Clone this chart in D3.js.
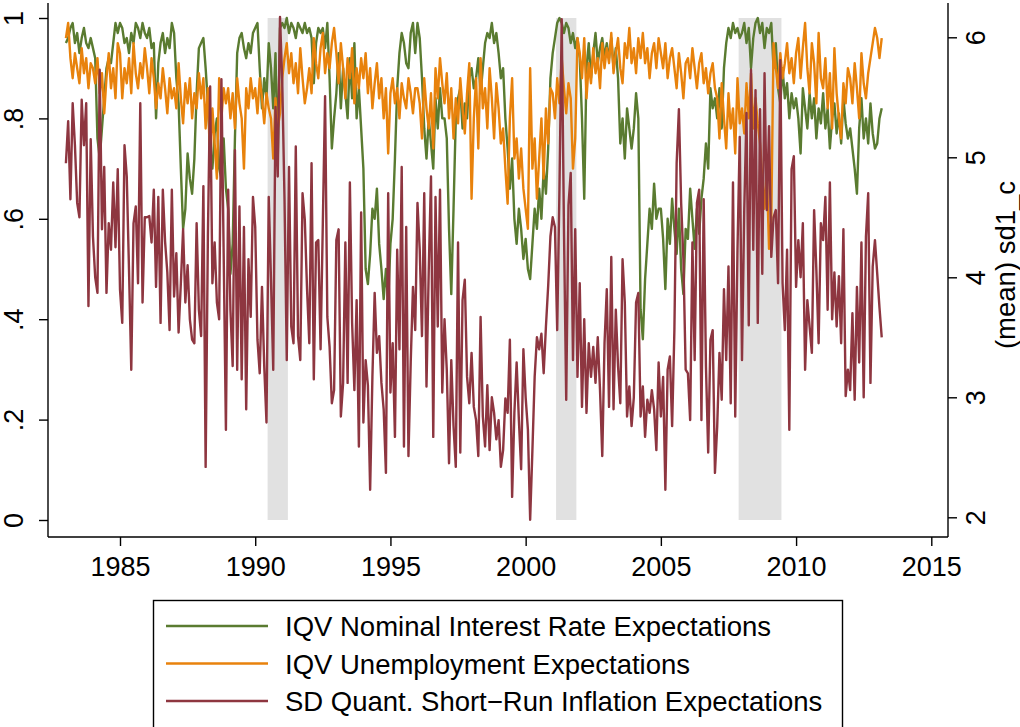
<!DOCTYPE html>
<html>
<head>
<meta charset="utf-8">
<script src="https://cdn.jsdelivr.net/npm/d3@7"></script>
<style>
  body { margin: 0; background: #fff; }
  text { font-family: "Liberation Sans", Arial, Helvetica, sans-serif; fill: #000; }
  .axis path, .axis line { stroke: #000; stroke-width: 1.4; }
  .series { fill: none; stroke-width: 2.4; stroke-linejoin: round; }
</style>
</head>
<body>
<div class="graph"></div>
<script>
// monthly observations, Jan 1983 - Mar 2013
var startYear = 1983;

var iqvInterest = [
  0.95, 0.96, 0.98, 0.99, 0.95, 0.97, 0.93, 0.96, 0.98, 0.95, 0.94, 0.96,
  0.94, 0.92, 0.76, 0.72, 0.78, 0.84, 0.90, 0.92, 0.91, 0.95, 0.99, 0.97,
  0.99, 0.98, 0.95, 0.96, 0.93, 0.97, 0.95, 0.99, 0.98, 0.96, 0.99, 0.97,
  0.96, 0.98, 0.94, 0.95, 0.80, 0.91, 0.95, 0.97, 0.93, 0.96, 0.94, 0.99,
  0.97, 0.88, 0.83, 0.70, 0.58, 0.62, 0.73, 0.68, 0.65, 0.72, 0.85, 0.94,
  0.95, 0.96, 0.90, 0.83, 0.74, 0.70, 0.77, 0.80, 0.70, 0.68, 0.76, 0.66,
  0.62, 0.49, 0.55, 0.76, 0.93, 0.96, 0.97, 0.94, 0.92, 0.95, 0.93, 0.97,
  0.98, 0.99, 0.90, 0.82, 0.88, 0.84, 0.95, 0.90, 0.82, 0.93, 0.72, 0.98,
  0.99, 0.98, 1.00, 0.97, 0.99, 0.98, 0.96, 0.99, 0.98, 0.97, 0.99, 0.97,
  0.98, 0.96, 0.87, 0.95, 0.98, 0.97, 0.98, 0.94, 0.99, 0.88, 0.74, 0.80,
  0.85, 0.93, 0.82, 0.90, 0.85, 0.80, 0.92, 0.84, 0.95, 0.80, 0.86, 0.78,
  0.70, 0.50, 0.47, 0.53, 0.62, 0.60, 0.66, 0.55, 0.50, 0.44, 0.50, 0.43,
  0.55, 0.60, 0.72, 0.86, 0.93, 0.97, 0.95, 0.91, 0.90, 0.97, 0.99, 0.93,
  0.99, 0.96, 0.88, 0.78, 0.72, 0.80, 0.75, 0.70, 0.84, 0.78, 0.86, 0.80,
  0.80, 0.76, 0.58, 0.45, 0.62, 0.80, 0.84, 0.86, 0.78, 0.83, 0.80, 0.88,
  0.90, 0.86, 0.88, 0.92, 0.85, 0.90, 0.95, 0.97, 0.96, 0.99, 0.95, 0.97,
  0.93, 0.88, 0.90, 0.80, 0.74, 0.66, 0.72, 0.60, 0.55, 0.62, 0.58, 0.52,
  0.56, 0.50, 0.48, 0.55, 0.62, 0.58, 0.66, 0.60, 0.70, 0.65, 0.74, 0.88,
  0.93, 0.96, 0.99, 1.00, 0.99, 0.97, 0.99, 0.98, 0.95, 0.97, 0.94, 0.96,
  0.92, 0.80, 0.64, 0.90, 0.95, 0.88, 0.93, 0.97, 0.91, 0.94, 0.96, 0.92,
  0.95, 0.92, 0.96, 0.90, 0.94, 0.88, 0.75, 0.80, 0.72, 0.82, 0.78, 0.74,
  0.78, 0.85, 0.80, 0.42, 0.36, 0.48, 0.55, 0.62, 0.58, 0.67, 0.60, 0.62,
  0.62, 0.56, 0.46, 0.60, 0.55, 0.64, 0.58, 0.53, 0.62, 0.50, 0.45, 0.58,
  0.56, 0.66, 0.60, 0.54, 0.62, 0.57, 0.64, 0.68, 0.75, 0.70, 0.86, 0.82,
  0.84, 0.80, 0.86, 0.78, 0.90, 0.95, 0.98, 0.96, 0.99, 0.97, 0.98, 0.96,
  0.97, 0.99, 0.95, 0.98, 0.90, 0.96, 0.99, 1.00, 0.97, 0.99, 0.94, 0.98,
  0.97, 0.99, 0.90, 0.95, 0.86, 0.83, 0.90, 0.84, 0.87, 0.80, 0.85, 0.82,
  0.84, 0.80, 0.73, 0.86, 0.82, 0.78, 0.85, 0.80, 0.84, 0.76, 0.82, 0.79,
  0.85, 0.78, 0.82, 0.74, 0.80, 0.83, 0.77, 0.81, 0.75, 0.84, 0.79, 0.76,
  0.78, 0.74, 0.70, 0.65, 0.78, 0.84, 0.76, 0.80, 0.75, 0.83, 0.77, 0.74,
  0.75, 0.80, 0.82
];

var iqvUnemp = [
  0.96, 0.99, 0.92, 0.88, 0.93, 0.90, 0.87, 0.94, 0.89, 0.92, 0.86, 0.91,
  0.90, 0.87, 0.92, 0.85, 0.89, 0.81, 0.88, 0.93, 0.86, 0.90, 0.84, 0.95,
  0.93, 0.84, 0.90, 0.87, 0.92, 0.85, 0.95, 0.89, 0.86, 0.91, 0.88, 0.94,
  0.90, 0.85, 0.92, 0.88, 0.82, 0.87, 0.84, 0.90, 0.86, 0.81, 0.88, 0.84,
  0.86, 0.82, 0.91, 0.84, 0.79, 0.87, 0.83, 0.88, 0.80, 0.85, 0.82, 0.89,
  0.84, 0.88, 0.78, 0.86, 0.70, 0.82, 0.75, 0.68, 0.88, 0.80, 0.86, 0.83,
  0.86, 0.80, 0.85, 0.78, 0.88, 0.83, 0.80, 0.70, 0.86, 0.82, 0.88, 0.84,
  0.86, 0.81, 0.88, 0.84, 0.79, 0.85, 0.82, 0.80, 0.72, 0.84, 0.78, 0.81,
  0.88, 0.92, 0.95, 0.89, 0.93, 0.87, 0.91, 0.85, 0.94, 0.88, 0.83, 0.86,
  0.90, 0.85, 0.96, 0.91, 0.88, 0.94, 0.97, 0.89, 0.93, 0.90, 0.95, 0.98,
  0.93, 0.87, 0.95, 0.90, 0.84, 0.92, 0.88, 0.94, 0.83, 0.90, 0.86, 0.92,
  0.88, 0.93, 0.85, 0.90, 0.82, 0.87, 0.91, 0.84, 0.88, 0.80, 0.86, 0.73,
  0.85, 0.88, 0.83, 0.86, 0.80, 0.87, 0.84, 0.82, 0.88, 0.85, 0.81, 0.86,
  0.86, 0.83, 0.76, 0.88, 0.82, 0.78, 0.85, 0.74, 0.90, 0.84, 0.92, 0.87,
  0.83, 0.89, 0.80, 0.86, 0.76, 0.84, 0.79, 0.88, 0.82, 0.77, 0.85, 0.91,
  0.64, 0.80, 0.88, 0.74, 0.92, 0.82, 0.86, 0.78, 0.90, 0.84, 0.76, 0.87,
  0.82, 0.75, 0.78, 0.70, 0.63, 0.80, 0.88, 0.72, 0.76, 0.68, 0.74, 0.66,
  0.62, 0.58, 0.90, 0.70, 0.76, 0.64, 0.72, 0.80, 0.68, 0.82, 0.75, 0.86,
  0.85, 0.80, 0.88, 0.83, 0.92, 0.86, 0.81, 0.87, 0.84, 0.70, 0.76, 0.96,
  0.93, 0.88, 0.96, 0.84, 0.91, 0.87, 0.94, 0.89, 0.92, 0.86, 0.95, 0.90,
  0.94, 0.91, 0.97, 0.89, 0.93, 0.96, 0.90, 0.87, 0.95, 0.92, 0.98, 0.91,
  0.94, 0.89, 0.96, 0.92, 0.97, 0.91, 0.94, 0.88, 0.93, 0.95, 0.90, 0.96,
  0.93, 0.90, 0.95, 0.88, 0.92, 0.94, 0.90, 0.86, 0.93, 0.89, 0.84, 0.91,
  0.92, 0.88, 0.94, 0.90, 0.86, 0.91, 0.93, 0.87, 0.90, 0.85, 0.89, 0.91,
  0.86, 0.84, 0.76, 0.87, 0.80, 0.74, 0.85, 0.78, 0.82, 0.73, 0.88, 0.79,
  0.82, 0.77, 0.87, 0.80, 0.89, 0.78, 0.84, 0.79, 0.75, 0.68, 0.62, 0.70,
  0.54, 0.60, 0.95, 0.90, 0.86, 0.93, 0.88, 0.91, 0.95, 0.89, 0.92, 0.87,
  0.93, 0.96, 0.88, 0.94, 0.99, 0.90, 0.85, 0.95, 0.91, 0.83, 0.97, 0.88,
  0.86, 0.92, 0.82, 0.89, 0.78, 0.94, 0.85, 0.80, 0.76, 0.87, 0.83, 0.90,
  0.88, 0.83, 0.91, 0.86, 0.80, 0.93, 0.87, 0.84, 0.89, 0.92, 0.95, 0.98,
  0.96, 0.92, 0.96
];

// right axis, (mean) sd1_c
var sdInflation = [
  4.95, 5.30, 4.65, 5.45, 5.10, 4.62, 4.50, 5.48, 5.10, 5.45, 3.76, 5.15,
  4.34, 4.00, 3.87, 5.73, 4.40, 4.92, 3.87, 4.45, 4.23, 4.79, 4.25, 4.90,
  3.90, 3.62, 5.10, 4.84, 4.06, 3.23, 4.45, 4.59, 3.95, 5.45, 3.79, 4.50,
  4.50, 4.51, 4.29, 4.73, 3.92, 4.67, 3.62, 4.73, 4.30, 4.04, 3.56, 4.73,
  3.84, 4.20, 3.54, 3.95, 4.40, 3.79, 4.10, 3.65, 3.48, 3.45, 4.45, 3.73,
  3.51, 4.76, 2.42, 4.34, 5.59, 3.95, 4.29, 3.79, 3.65, 5.65, 4.20, 2.73,
  4.73, 3.73, 3.26, 5.06, 3.23, 4.59, 3.15, 4.42, 2.90, 4.15, 3.67, 4.67,
  4.42, 3.48, 3.20, 3.92, 3.26, 2.79, 4.67, 3.98, 3.23, 5.42, 4.84, 6.17,
  5.62, 4.65, 3.31, 4.92, 3.59, 3.45, 5.09, 3.51, 3.31, 4.70, 4.48, 3.90,
  3.45, 4.95, 3.15, 4.29, 4.31, 3.40, 4.45, 5.51, 3.67, 3.42, 2.95, 3.06,
  4.31, 4.40, 2.84, 3.12, 4.29, 3.12, 4.79, 3.62, 3.06, 3.81, 2.59, 4.54,
  2.79, 3.31, 3.10, 2.23, 3.17, 3.87, 3.37, 3.51, 3.12, 2.90, 2.37, 4.70,
  3.04, 3.45, 2.67, 4.23, 3.40, 4.92, 2.59, 4.42, 2.51, 3.29, 3.92, 3.56,
  4.62, 4.23, 3.51, 4.70, 3.09, 4.06, 4.84, 2.67, 4.67, 3.59, 4.73, 3.04,
  3.65, 3.23, 2.45, 3.31, 2.76, 2.42, 4.29, 2.54, 3.81, 3.98, 3.17, 2.95,
  3.37, 2.92, 2.81, 2.51, 3.67, 2.84, 2.59, 3.10, 2.56, 3.00, 2.87, 2.65,
  2.81, 2.42, 2.56, 2.99, 2.87, 3.48, 2.17, 2.87, 3.29, 2.81, 2.40, 3.40,
  3.00, 2.73, 1.98, 2.56, 3.17, 3.50, 3.40, 3.53, 3.20, 3.59, 3.93, 4.34,
  4.50, 4.42, 3.56, 4.73, 6.15, 4.40, 2.98, 4.60, 4.87, 3.31, 4.40, 3.17,
  3.95, 2.92, 3.65, 2.87, 3.45, 3.17, 3.42, 3.12, 3.50, 3.06, 2.51, 3.45,
  3.90, 2.92, 4.17, 2.90, 3.73, 3.26, 2.95, 4.15, 3.79, 2.84, 3.09, 2.76,
  3.00, 3.79, 3.87, 2.84, 3.09, 2.67, 2.98, 2.87, 3.06, 2.90, 2.56, 3.29,
  2.84, 3.17, 2.23, 3.23, 3.34, 2.76, 3.56, 4.95, 5.40, 4.62, 4.15, 3.23,
  3.20, 2.81, 4.29, 3.31, 4.62, 4.73, 2.81, 4.65, 3.26, 2.54, 3.48, 3.56,
  2.37, 2.76, 3.37, 2.98, 3.90, 3.31, 4.09, 2.95, 4.79, 2.84, 4.23, 5.17,
  3.31, 4.56, 5.37, 3.60, 5.73, 4.23, 5.56, 3.62, 5.40, 4.03, 5.70, 4.56,
  5.26, 4.17, 4.50, 4.56, 3.95, 5.81, 3.95, 3.56, 4.23, 2.73, 4.90, 5.01,
  3.92, 4.31, 4.00, 4.45, 3.23, 3.81, 3.59, 3.37, 4.56, 4.06, 3.45, 4.45,
  4.31, 4.67, 3.73, 4.79, 3.65, 4.04, 3.59, 4.01, 3.45, 4.40, 3.01, 3.23,
  3.06, 3.70, 2.98, 3.92, 3.29, 4.29, 3.00, 4.34, 4.70, 3.12, 4.09, 4.31,
  4.03, 3.75, 3.50
];

// NBER recessions, first and last month
var recessions = [[1990, 7, 1991, 3], [2001, 3, 2001, 11], [2007, 12, 2009, 6]];

var xTicks = [1985, 1990, 1995, 2000, 2005, 2010, 2015];
var leftTicks = [0, 0.2, 0.4, 0.6, 0.8, 1];
var leftLabels = ["0", ".2", ".4", ".6", ".8", "1"];
var rightTicks = [2, 3, 4, 5, 6];

var seriesNames = [
  "IQV Nominal Interest Rate Expectations",
  "IQV Unemployment Expectations",
  "SD Quant. Short\u2212Run Inflation Expectations"
];
var seriesColors = ["#5a7b30", "#e8820c", "#8e3640"];

var width = 1020, height = 727;
var tickFont = 27, legendFont = 27.5;

var svg = d3.select(".graph").append("svg")
    .attr("width", width)
    .attr("height", height);

var x = d3.scaleLinear().domain([1985, 2015]).range([120, 931.3]);
var yLeft = d3.scaleLinear().domain([0, 1]).range([520, 18]);
var yRight = d3.scaleLinear().domain([2, 6]).range([517.3, 37.3]);

function monthPos(y, m) { return y + (m - 1) / 12; }

// recession shading, one bar per month like the original
recessions.forEach(function(r) {
  var a = monthPos(r[0], r[1]) - 0.5 / 12;
  var b = monthPos(r[2], r[3]) + 0.5 / 12;
  svg.append("rect")
      .attr("x", x(a))
      .attr("y", yLeft(1))
      .attr("width", x(b) - x(a))
      .attr("height", yLeft(0) - yLeft(1))
      .attr("fill", "#e1e1e1");
});

function toPoints(values) {
  return values.map(function(v, i) { return { t: startYear + i / 12, v: v }; });
}

var lineLeft = d3.line()
    .x(function(d) { return x(d.t); })
    .y(function(d) { return yLeft(d.v); });
var lineRight = d3.line()
    .x(function(d) { return x(d.t); })
    .y(function(d) { return yRight(d.v); });

svg.append("path").datum(toPoints(iqvInterest))
    .attr("class", "series").attr("stroke", seriesColors[0]).attr("d", lineLeft);
svg.append("path").datum(toPoints(iqvUnemp))
    .attr("class", "series").attr("stroke", seriesColors[1]).attr("d", lineLeft);
svg.append("path").datum(toPoints(sdInflation))
    .attr("class", "series").attr("stroke", seriesColors[2]).attr("d", lineRight);

// X axis
var xAxisEl = svg.append("g")
    .attr("class", "axis")
    .attr("transform", "translate(0,537)")
    .call(d3.axisBottom(x).tickValues(xTicks).tickFormat(d3.format("d")).tickSize(9).tickSizeOuter(0));
xAxisEl.select(".domain").attr("d", "M48,0H948");
xAxisEl.selectAll("text").attr("font-size", tickFont).attr("dy", 0).attr("y", 38.5);

// Left axis
var yAxisEl = svg.append("g")
    .attr("class", "axis")
    .attr("transform", "translate(48,0)")
    .call(d3.axisLeft(yLeft).tickValues(leftTicks).tickFormat(function(d, i) { return leftLabels[i]; }).tickSize(9).tickSizeOuter(0));
yAxisEl.select(".domain").attr("d", "M0,3V537");
yAxisEl.selectAll(".tick text")
    .attr("font-size", tickFont)
    .attr("x", 0).attr("dy", 0)
    .attr("text-anchor", "middle")
    .attr("transform", "translate(-25,0) rotate(-90)");

// Right axis
var y2AxisEl = svg.append("g")
    .attr("class", "axis")
    .attr("transform", "translate(948,0)")
    .call(d3.axisRight(yRight).tickValues(rightTicks).tickFormat(d3.format("d")).tickSize(9).tickSizeOuter(0));
y2AxisEl.select(".domain").attr("d", "M0,3V537");
y2AxisEl.selectAll(".tick text")
    .attr("font-size", tickFont)
    .attr("x", 0).attr("dy", 0)
    .attr("text-anchor", "middle")
    .attr("transform", "translate(37,0) rotate(-90)");

svg.append("text")
    .attr("font-size", legendFont)
    .attr("text-anchor", "middle")
    .attr("transform", "translate(1015,265) rotate(-90)")
    .text("(mean) sd1_c");

// Legend
var legend = svg.append("g");
legend.append("rect")
    .attr("x", 153.5).attr("y", 600.5)
    .attr("width", 689).attr("height", 140)
    .attr("fill", "#fff").attr("stroke", "#000").attr("stroke-width", 1.4);

seriesNames.forEach(function(name, i) {
  var cy = 626 + i * 37.5;
  legend.append("line")
      .attr("x1", 166).attr("x2", 268)
      .attr("y1", cy).attr("y2", cy)
      .attr("stroke", seriesColors[i]).attr("stroke-width", 2.4);
  legend.append("text")
      .attr("x", 285).attr("y", cy + 10)
      .attr("font-size", legendFont)
      .text(name);
});
</script>
</body>
</html>
